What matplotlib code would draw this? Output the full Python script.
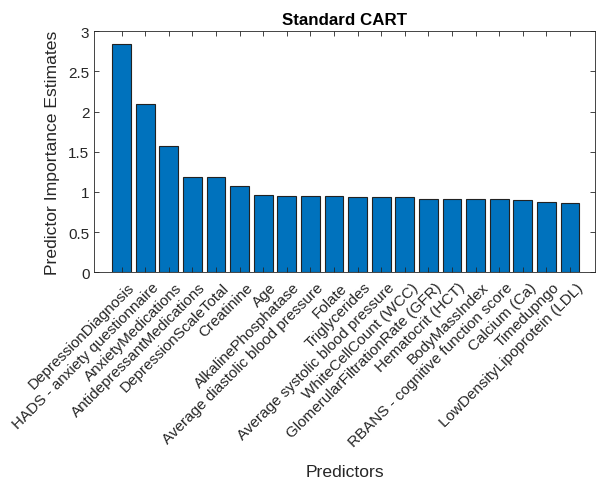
import matplotlib.pyplot as plt
import matplotlib.transforms as mtransforms
import numpy as np

predictors = ['DepressionDiagnosis', 'HADS - anxiety questionnaire', 'AnxietyMedications',
              'AntidepressantMedications', 'DepressionScaleTotal', 'Creatinine', 'Age',
              'AlkalinePhosphatase', 'Average diastolic blood pressure', 'Folate',
              'Triglycerides', 'Average systolic blood pressure', 'WhiteCellCount (WCC)',
              'GlomerularFiltrationRate (GFR)', 'Hematocrit (HCT)', 'BodyMassIndex',
              'RBANS - cognitive function score', 'Calcium (Ca)', 'Timedupngo',
              'LowDensityLipoprotein (LDL)']
importance = [2.84, 2.09, 1.57, 1.19, 1.19, 1.07, 0.96, 0.95, 0.95, 0.95,
              0.94, 0.94, 0.94, 0.91, 0.91, 0.91, 0.91, 0.90, 0.875, 0.865]

plt.rcParams['font.family'] = ['Liberation Sans', 'DejaVu Sans']
grey = '#262626'

fig = plt.figure(figsize=(5.96, 4.81), dpi=100)
ax = fig.add_axes([0.1582, 0.4318, 0.8405, 0.501])

x = np.arange(1, len(importance) + 1)
ax.bar(x, importance, width=0.8, color='#0072BD', edgecolor='#222222', linewidth=0.8)

ax.set_xlim(-0.16, 21.07)
ax.set_ylim(0, 3)
ax.set_yticks(np.arange(0, 3.01, 0.5))
ax.set_yticklabels(['0', '0.5', '1', '1.5', '2', '2.5', '3'])
ax.set_xticks(x)
ax.set_xticklabels(predictors, rotation=45, ha='right', va='top',
                   rotation_mode='anchor')

ax.tick_params(direction='in', top=True, right=True, length=3.5, width=0.6,
               colors=grey, labelsize=11)
ax.tick_params(axis='x', pad=4)
# nudge the rotated labels a little to the right
shift = mtransforms.ScaledTranslation(6 / 100, -2 / 100, fig.dpi_scale_trans)
for lab in ax.get_xticklabels():
    lab.set_transform(lab.get_transform() + shift)

for s in ax.spines.values():
    s.set_color(grey)
    s.set_linewidth(0.6)

ax.set_title('Standard CART', fontsize=12.2, fontweight='bold', color='black', pad=5)
ax.set_ylabel('Predictor Importance Estimates', fontsize=12.6, color=grey, labelpad=6)
ax.set_xlabel('Predictors', fontsize=12.6, color=grey)
ax.xaxis.set_label_coords(0.5, -0.795)

fig.savefig('out.png', dpi=100)
